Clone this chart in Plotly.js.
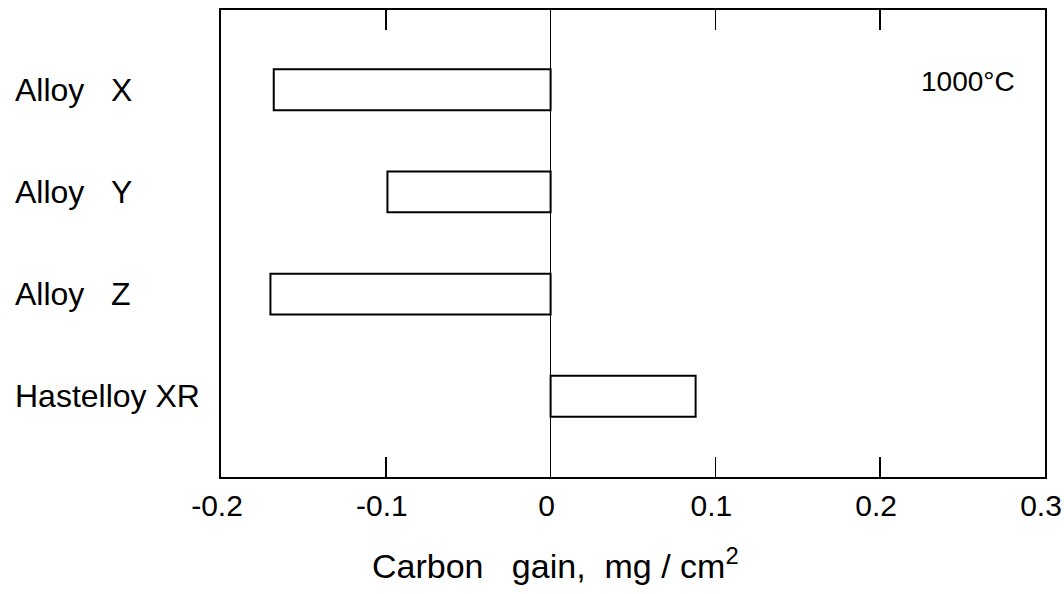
<!DOCTYPE html>
<html>
<head>
<meta charset="utf-8">
<script src="https://cdn.plot.ly/plotly-3.0.1.min.js"></script>
<style>
  html, body { margin: 0; padding: 0; background: #fff; }
  #chart { width: 1064px; height: 594px; }
</style>
</head>
<body>
<div id="chart"></div>
<script>
// Carbon gain after exposure at 1000 °C, one bar per alloy
const categories = ["Alloy X", "Alloy Y", "Alloy Z", "Hastelloy XR"];
const carbonGain = [-0.168, -0.099, -0.170, 0.088];
const rowLabels = ["Alloy\u00a0\u00a0\u00a0X", "Alloy\u00a0\u00a0\u00a0Y", "Alloy\u00a0\u00a0\u00a0Z", "Hastelloy\u00a0XR"];
const xTickVals = [-0.2, -0.1, 0, 0.1, 0.2, 0.3];
const xTickText = ["-0.2", "-0.1", "0", "0.1", "0.2", "0.3"];
const xTitle = "Carbon\u00a0\u00a0\u00a0gain,\u00a0\u00a0mg\u00a0/\u00a0cm<sup>2</sup>";
const tempLabel = "1000°C";

const FONT = "Liberation Sans, Arial, sans-serif";
const rowIndex = categories.map((_, i) => i);

const trace = {
  type: "bar",
  orientation: "h",
  x: carbonGain,
  y: rowIndex,
  width: 0.4,
  marker: { color: "#ffffff", line: { color: "#000000", width: 2 } },
  hoverinfo: "skip"
};

// category names, left-aligned in the left margin
const labelAnnotations = rowLabels.map((t, i) => ({
  text: t,
  xref: "paper", x: -0.252, xanchor: "left",
  yref: "y", y: rowIndex[i], yanchor: "middle",
  showarrow: false,
  font: { family: FONT, size: 32, color: "#000" }
}));

const layout = {
  width: 1064, height: 594,
  margin: { l: 221, r: 19, t: 10, b: 117 },
  paper_bgcolor: "#fff", plot_bgcolor: "#fff",
  showlegend: false,
  font: { family: FONT, size: 30, color: "#000" },
  xaxis: {
    range: [-0.2, 0.3000001],
    tickvals: xTickVals, ticktext: xTickText,
    ticks: "inside", ticklen: 20, tickwidth: 1.5, tickcolor: "#000",
    showline: true, linecolor: "#000", linewidth: 2, mirror: "ticks",
    showgrid: false,
    zeroline: true, zerolinecolor: "#000", zerolinewidth: 1.5,
    tickfont: { family: FONT, size: 30, color: "#000" },
    ticklabelstandoff: 1,
    ticklabelshift: -4,
    fixedrange: true
  },
  yaxis: {
    range: [3.79, -0.78],
    showticklabels: false, ticks: "",
    showline: true, linecolor: "#000", linewidth: 2, mirror: true,
    showgrid: false, zeroline: false,
    fixedrange: true
  },
  annotations: labelAnnotations.concat([
    {
      // axis title, centred under the zero line
      text: xTitle,
      xref: "x", x: 0.003, xanchor: "center",
      yref: "paper", y: -0.135, yanchor: "top",
      showarrow: false,
      font: { family: FONT, size: 34, color: "#000" }
    },
    {
      text: tempLabel,
      xref: "paper", x: 0.966, xanchor: "right",
      yref: "y", y: -0.08, yanchor: "middle",
      showarrow: false,
      font: { family: FONT, size: 28, color: "#000" }
    }
  ])
};

Plotly.newPlot("chart", [trace], layout, { displayModeBar: false, staticPlot: true });
</script>
</body>
</html>
